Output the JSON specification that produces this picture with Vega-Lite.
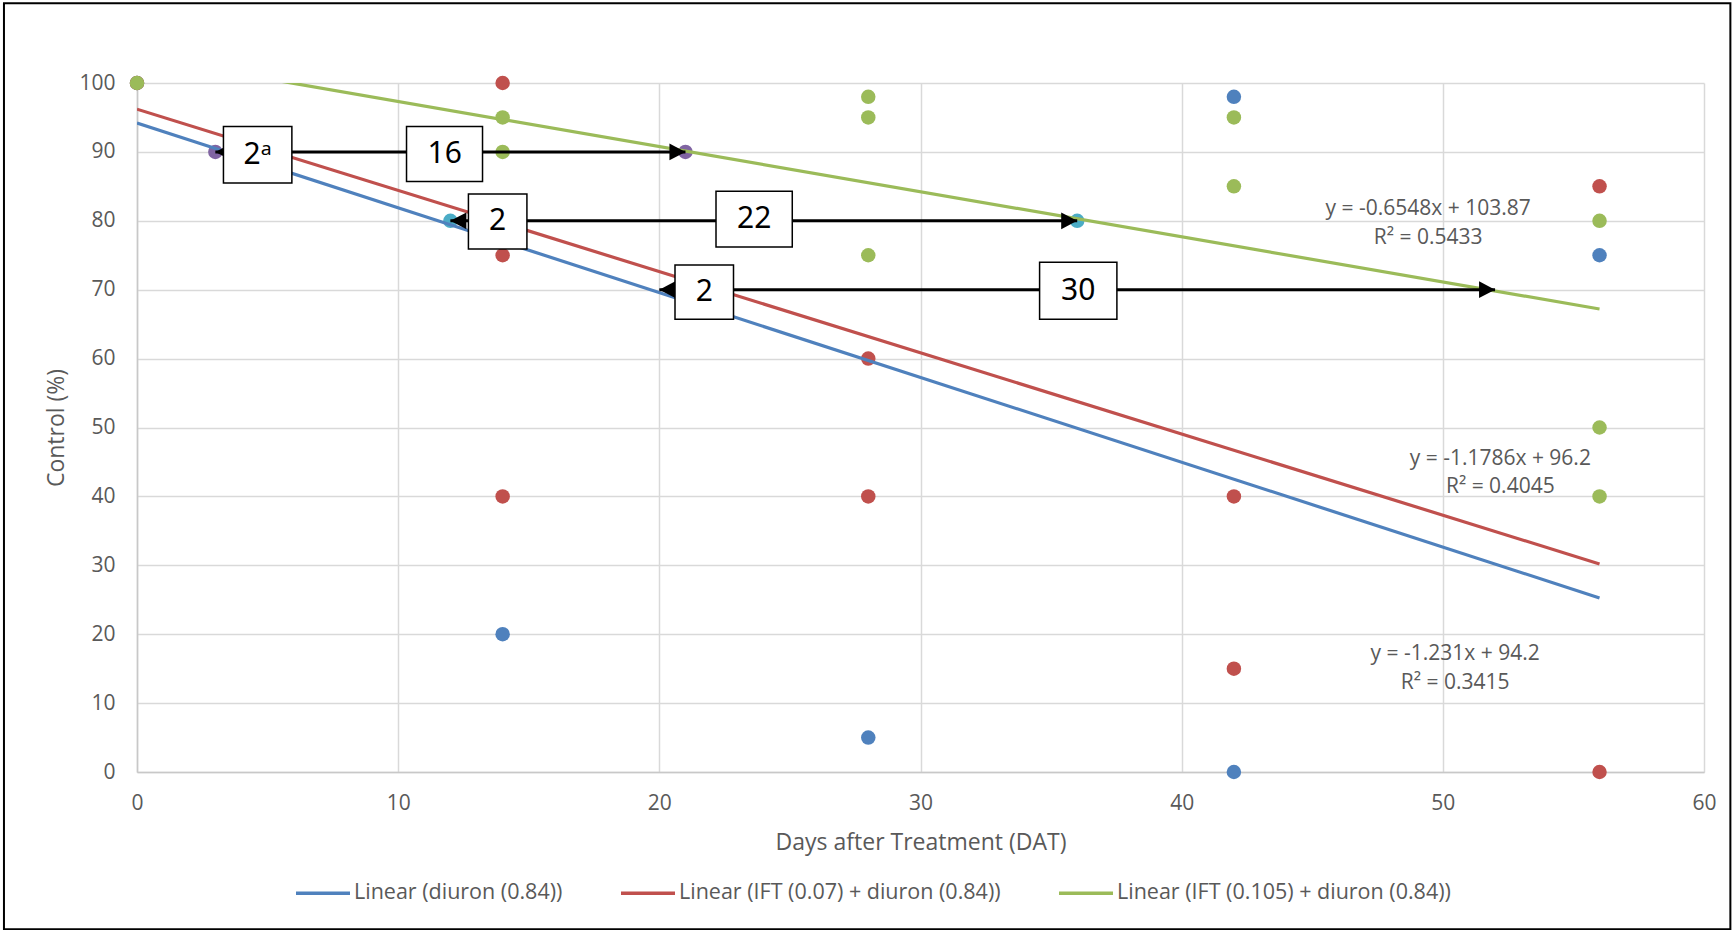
{
  "$schema": "https://vega.github.io/schema/vega-lite/v6.json",
  "width": 1567,
  "height": 689,
  "autosize": {"type": "none"},
  "padding": {"left": 137, "top": 83, "right": 28, "bottom": 158},
  "background": "white",
  "config": {
    "font": "Open Sans",
    "view": {"stroke": null},
    "axis": {
      "ticks": false,
      "grid": true,
      "gridColor": "#D9D9D9",
      "gridWidth": 1.5,
      "domainColor": "#C8C8C8",
      "domainWidth": 1.5,
      "labelFontSize": 21,
      "labelColor": "#595959",
      "labelFont": "Open Sans",
      "titleFont": "Open Sans",
      "titleFontSize": 23,
      "titleFontWeight": "normal",
      "titleColor": "#595959",
      "labelFlush": false,
      "labelOverlap": false
    }
  },
  "datasets": {
    "frame": [{"x": -5.094, "x2": 61.01, "y": 111.57, "y2": -22.83}],
    "points": [
      {"g": "diuron (0.84)", "x": 0, "y": 100},
      {"g": "IFT (0.07) + diuron (0.84)", "x": 0, "y": 100},
      {"g": "IFT (0.105) + diuron (0.84)", "x": 0, "y": 100},
      {"g": "IFT (0.07) + diuron (0.84)", "x": 14, "y": 100},
      {"g": "IFT (0.105) + diuron (0.84)", "x": 14, "y": 95},
      {"g": "IFT (0.105) + diuron (0.84)", "x": 14, "y": 90},
      {"g": "IFT (0.07) + diuron (0.84)", "x": 14, "y": 75},
      {"g": "IFT (0.07) + diuron (0.84)", "x": 14, "y": 40},
      {"g": "diuron (0.84)", "x": 14, "y": 20},
      {"g": "IFT (0.105) + diuron (0.84)", "x": 28, "y": 98},
      {"g": "IFT (0.105) + diuron (0.84)", "x": 28, "y": 95},
      {"g": "IFT (0.105) + diuron (0.84)", "x": 28, "y": 75},
      {"g": "IFT (0.07) + diuron (0.84)", "x": 28, "y": 60},
      {"g": "IFT (0.07) + diuron (0.84)", "x": 28, "y": 40},
      {"g": "diuron (0.84)", "x": 28, "y": 5},
      {"g": "diuron (0.84)", "x": 42, "y": 98},
      {"g": "IFT (0.105) + diuron (0.84)", "x": 42, "y": 95},
      {"g": "IFT (0.105) + diuron (0.84)", "x": 42, "y": 85},
      {"g": "IFT (0.07) + diuron (0.84)", "x": 42, "y": 40},
      {"g": "IFT (0.07) + diuron (0.84)", "x": 42, "y": 15},
      {"g": "diuron (0.84)", "x": 42, "y": 0},
      {"g": "IFT (0.07) + diuron (0.84)", "x": 56, "y": 85},
      {"g": "IFT (0.105) + diuron (0.84)", "x": 56, "y": 80},
      {"g": "diuron (0.84)", "x": 56, "y": 75},
      {"g": "IFT (0.105) + diuron (0.84)", "x": 56, "y": 50},
      {"g": "IFT (0.105) + diuron (0.84)", "x": 56, "y": 40},
      {"g": "IFT (0.07) + diuron (0.84)", "x": 56, "y": 0},
      {"g": "90% control", "x": 3, "y": 90},
      {"g": "90% control", "x": 21, "y": 90},
      {"g": "80% control", "x": 12, "y": 80},
      {"g": "80% control", "x": 36, "y": 80}
    ],
    "trends": [
      {"s": "Linear (diuron (0.84))", "x": 0, "y": 94.2},
      {"s": "Linear (diuron (0.84))", "x": 56, "y": 25.26},
      {"s": "Linear (IFT (0.07) + diuron (0.84))", "x": 0, "y": 96.2},
      {"s": "Linear (IFT (0.07) + diuron (0.84))", "x": 56, "y": 30.2},
      {"s": "Linear (IFT (0.105) + diuron (0.84))", "x": 0, "y": 103.87},
      {"s": "Linear (IFT (0.105) + diuron (0.84))", "x": 56, "y": 67.2}
    ],
    "arrows": [
      {"y": 90, "x": 3, "x2": 21},
      {"y": 80, "x": 12, "x2": 36},
      {"y": 70, "x": 20, "x2": 52}
    ],
    "heads": [
      {"x": 3, "y": 90, "dir": "left"},
      {"x": 21, "y": 90, "dir": "right"},
      {"x": 12, "y": 80, "dir": "left"},
      {"x": 36, "y": 80, "dir": "right"},
      {"x": 20, "y": 70, "dir": "left"},
      {"x": 52, "y": 70, "dir": "right"}
    ],
    "boxes": [
      {"lab": "2ᵃ", "x": 3.31, "x2": 5.93, "y": 93.7, "y2": 85.5, "xc": 4.62, "yc": 89.6},
      {"lab": "16", "x": 10.32, "x2": 13.23, "y": 93.7, "y2": 85.7, "xc": 11.78, "yc": 89.7},
      {"lab": "2", "x": 12.69, "x2": 14.93, "y": 83.9, "y2": 75.9, "xc": 13.81, "yc": 79.9},
      {"lab": "22", "x": 22.17, "x2": 25.09, "y": 84.3, "y2": 76.2, "xc": 23.63, "yc": 80.25},
      {"lab": "2", "x": 20.6, "x2": 22.84, "y": 73.6, "y2": 65.7, "xc": 21.72, "yc": 69.65},
      {"lab": "30", "x": 34.56, "x2": 37.52, "y": 74.0, "y2": 65.7, "xc": 36.04, "yc": 69.85}
    ],
    "eqs": [
      {"t": "y = -0.6548x + 103.87", "x": 49.44, "y": 81.7},
      {"t": "R² = 0.5433", "x": 49.44, "y": 77.5},
      {"t": "y = -1.1786x + 96.2", "x": 52.2, "y": 45.47},
      {"t": "R² = 0.4045", "x": 52.2, "y": 41.3},
      {"t": "y = -1.231x + 94.2", "x": 50.47, "y": 17.1},
      {"t": "R² = 0.3415", "x": 50.47, "y": 12.93}
    ]
  },
  "encoding": {
    "x": {
      "field": "x", "type": "quantitative",
      "scale": {"domain": [0, 60], "nice": false, "zero": false},
      "axis": {"title": "Days after Treatment (DAT)", "values": [0, 10, 20, 30, 40, 50, 60], "labelPadding": 20, "titlePadding": 18}
    },
    "y": {
      "field": "y", "type": "quantitative",
      "scale": {"domain": [0, 100], "nice": false, "zero": false},
      "axis": {"title": "Control (%)", "values": [0, 10, 20, 30, 40, 50, 60, 70, 80, 90, 100], "labelPadding": 22, "titlePadding": 10}
    }
  },
  "layer": [
    {
      "data": {"name": "frame"},
      "mark": {"type": "rect", "fill": null, "filled": false, "stroke": "#000000", "strokeWidth": 2, "clip": false},
      "encoding": {"x2": {"field": "x2"}, "y2": {"field": "y2"}}
    },
    {
      "data": {"name": "points"},
      "mark": {"type": "circle", "size": 210, "opacity": 1},
      "encoding": {
        "fill": {
          "field": "g", "type": "nominal", "legend": null,
          "scale": {
            "domain": ["diuron (0.84)", "IFT (0.07) + diuron (0.84)", "IFT (0.105) + diuron (0.84)", "90% control", "80% control"],
            "range": ["#4F81BD", "#C0504D", "#9BBB59", "#8064A2", "#4BACC6"]
          }
        }
      }
    },
    {
      "data": {"name": "trends"},
      "mark": {"type": "line", "strokeWidth": 3.2, "clip": true},
      "encoding": {
        "color": {
          "field": "s", "type": "nominal",
          "scale": {
            "domain": ["Linear (diuron (0.84))", "Linear (IFT (0.07) + diuron (0.84))", "Linear (IFT (0.105) + diuron (0.84))"],
            "range": ["#4F81BD", "#C0504D", "#9BBB59"]
          },
          "legend": {
            "orient": "none", "legendX": 157, "legendY": 781, "direction": "horizontal",
            "title": null, "symbolType": "stroke", "symbolSize": 2916, "symbolStrokeWidth": 3.5,
            "labelFontSize": 21.5, "labelColor": "#595959", "labelFont": "Open Sans", "labelLimit": 0,
            "columnPadding": 51, "labelOffset": 2, "padding": 0
          }
        }
      }
    },
    {
      "data": {"name": "arrows"},
      "mark": {"type": "rule", "color": "#000000", "strokeWidth": 3},
      "encoding": {"x2": {"field": "x2"}}
    },
    {
      "data": {"name": "heads"},
      "mark": {"type": "point", "filled": true, "size": 256, "opacity": 1, "color": "#000000", "strokeWidth": 0},
      "encoding": {
        "shape": {
          "field": "dir", "type": "nominal", "legend": null,
          "scale": {"domain": ["left", "right"], "range": ["M0,0L2,-1.05L2,1.05Z", "M0,0L-2,-1.05L-2,1.05Z"]}
        }
      }
    },
    {
      "data": {"name": "boxes"},
      "mark": {"type": "rect", "fill": "#FFFFFF", "stroke": "#000000", "strokeWidth": 1.5},
      "encoding": {"x2": {"field": "x2"}, "y2": {"field": "y2"}}
    },
    {
      "data": {"name": "boxes"},
      "mark": {"type": "text", "fontSize": 30, "font": "Noto Sans", "color": "#000000", "align": "center", "baseline": "middle"},
      "encoding": {
        "x": {"field": "xc", "type": "quantitative"},
        "y": {"field": "yc", "type": "quantitative"},
        "text": {"field": "lab"}
      }
    },
    {
      "data": {"name": "eqs"},
      "mark": {"type": "text", "fontSize": 21, "color": "#595959", "align": "center", "baseline": "middle"},
      "encoding": {"text": {"field": "t"}}
    }
  ]
}
